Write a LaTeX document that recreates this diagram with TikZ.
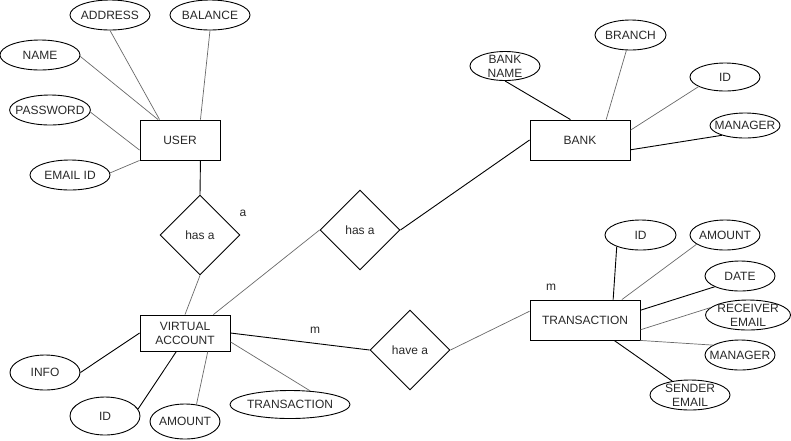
\documentclass[tikz,border=0pt]{standalone}
\usepackage{fontspec}
\setmainfont{Liberation Sans}
\usepackage{tikz}
\usetikzlibrary{shapes.geometric}
\usepackage{xcolor}
\definecolor{ergray}{RGB}{105,105,105}
\definecolor{ertext}{RGB}{40,40,40}
\tikzstyle{entity} = [rectangle, draw=black, line width=0.9pt, inner sep=0pt, align=center, text=ertext, font=\fontsize{12}{14}\selectfont]
\tikzstyle{attr} = [ellipse, draw=black, line width=0.9pt, inner xsep=-6pt, inner ysep=-1.5pt, minimum width=70, minimum height=30, align=center, text=ertext, font=\fontsize{12}{14}\selectfont]
\tikzstyle{relation} = [diamond, draw=black, line width=0.9pt, aspect=1, inner sep=0pt, minimum width=80, minimum height=80, text=ertext, font=\fontsize{12}{14}\selectfont]
\tikzstyle{card} = [inner sep=0pt, text=ertext, font=\fontsize{12}{14}\selectfont]
\tikzstyle{link} = [line width=0.9pt, black]
\tikzstyle{glink} = [line width=0.7pt, ergray]

\begin{document}
\begin{tikzpicture}[x=1pt, y=-1pt]
\useasboundingbox (0,0) rectangle (791,440);

% User and its attributes
\node[entity, minimum width=80, minimum height=40] (user) at (180,140) {USER};
\node[attr, minimum width=80] (uaddr) at (110,15) {ADDRESS};
\node[attr, minimum width=80] (ubal) at (210,15) {BALANCE};
\node[attr, minimum width=80] (uname) at (40,55) {NAME};
\node[attr, minimum width=80] (upass) at (50,110) {PASSWORD};
\node[attr, minimum width=80] (umail) at (70,175) {EMAIL ID};

\draw[glink] (uname.-2) -- (user.137);
\draw[glink] (uaddr.south) -- (user.135);
\draw[glink] (ubal.south) -- (user.45);
\draw[glink] (upass.-3) -- (user.194);
\draw[glink] (umail.3) -- (user.south west);

% Relations
\node[relation] (hasa1) at (200,235) {has a};
\node[relation] (hasa2) at (360,230) {has a};
\node[relation] (havea) at (410,350) {have a};

\node[card] (carda) at (243,213) {a};
\node[card] (cardm1) at (315,330) {m};
\node[card] (cardm2) at (551,287) {m};

% Bank and its attributes
\node[entity, minimum width=100, minimum height=40] (bank) at (580,140) {BANK};
\node[attr, minimum height=29] (bname) at (505,66) {BANK\\NAME};
\node[attr, minimum width=71] (bbranch) at (630.5,35) {BRANCH};
\node[attr, minimum height=28] (bid) at (725,77) {ID};
\node[attr, minimum height=25] (bmgr) at (745,125.5) {MANAGER};

\draw[link] (bname.south) -- (bank.115);
\draw[glink] (bbranch.255) -- (bank.38);
\draw[glink] (bid.200) -- (bank.11);
\draw[link] (bmgr.203) -- (bank.349);

% Virtual account and its attributes
\node[entity, minimum width=90, minimum height=36] (va) at (185,333) {VIRTUAL\\ACCOUNT};
\node[attr, minimum height=35] (vinfo) at (45,372.5) {INFO};
\node[attr, minimum height=38] (vid) at (105,416) {ID};
\node[attr, minimum height=35] (vamt) at (185,421.5) {AMOUNT};
\node[attr, minimum width=120, minimum height=28] (vtrans) at (290,404.5) {TRANSACTION};

\draw[link] (vinfo.east) -- (va.west);
\draw[link] (vid.12) -- (va.245);
\draw[glink] (vamt.56) -- (va.321);
\draw[glink] (vtrans.34) -- (va.349);

% Transaction and its attributes
\node[entity, minimum width=110, minimum height=40] (trans) at (585,320) {TRANSACTION};
\node[attr, minimum width=71] (tid) at (640.5,235) {ID};
\node[attr] (tamt) at (725,235) {AMOUNT};
\node[attr] (tdate) at (740,276) {DATE};
\node[attr, minimum width=85] (trecv) at (748,315) {RECEIVER\\EMAIL};
\node[attr] (tmgr) at (740,355) {MANAGER};
\node[attr, minimum width=80] (tsend) at (690,395) {SENDER\\EMAIL};

\draw[link] (tid.206) -- (trans.36);
\draw[glink] (tamt.198) -- (trans.29);
\draw[link] (tdate.203) -- (trans.10);
\draw[glink] (trecv.169) -- (trans.350);
\draw[glink] (tmgr.160) -- (trans.south east);
\draw[link] (tsend.142) -- (trans.325);

% Relation links
\draw[link] (user.315) -- (hasa1.north);
\draw[glink] (hasa1.south) -- (va.north);
\draw[glink] (hasa2.west) -- (va.33);
\draw[link] (hasa2.east) -- (bank.west);
\draw[link] (va.east) -- (havea.west);
\draw[glink] (havea.east) -- (trans.171);
\end{tikzpicture}
\end{document}
